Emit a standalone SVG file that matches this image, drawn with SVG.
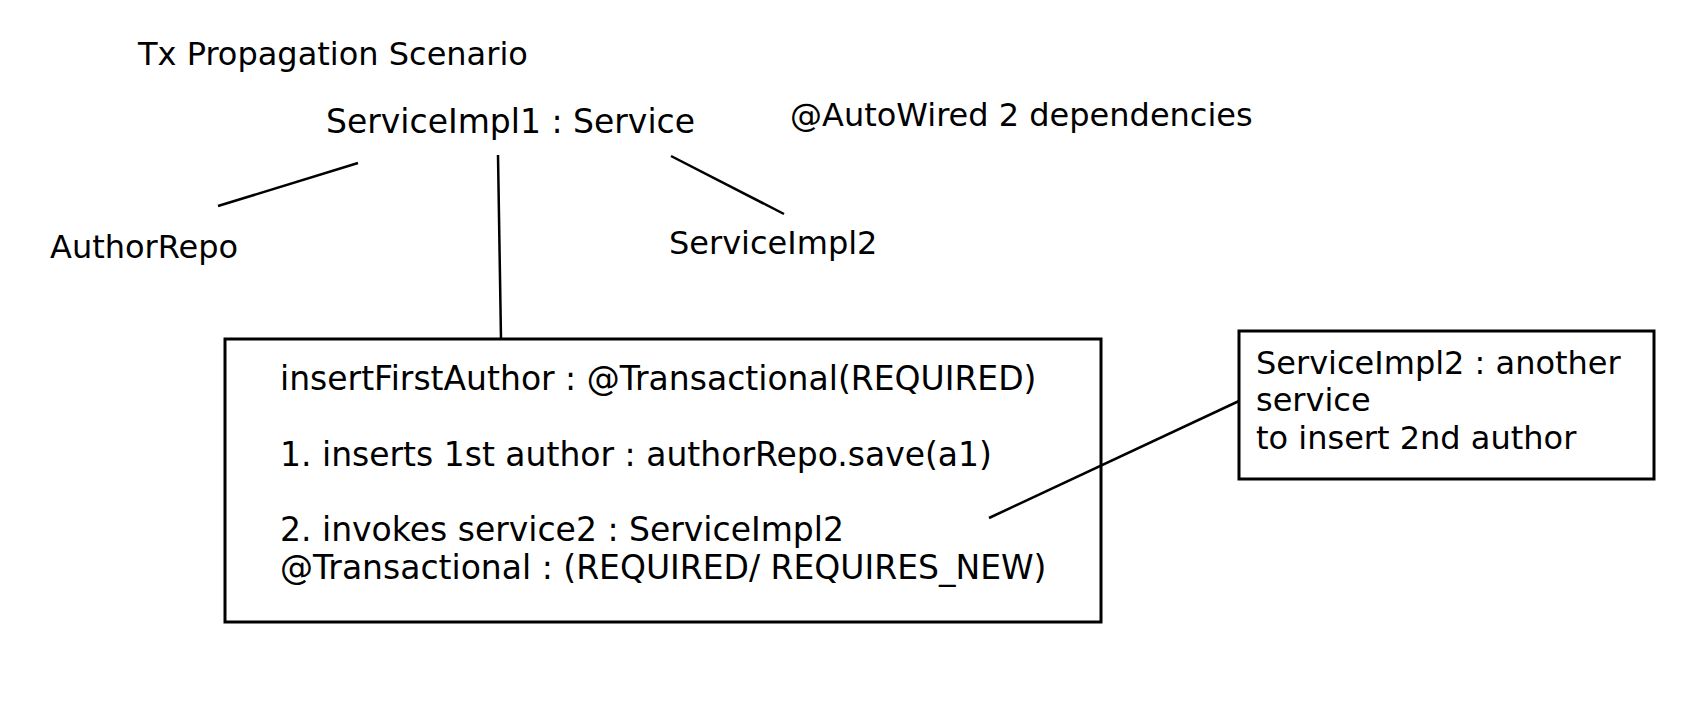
<svg xmlns="http://www.w3.org/2000/svg" width="1698" height="718" viewBox="0 0 1698 718">
<style>
text{font-family:"DejaVu Sans",Verdana,sans-serif;font-size:32px;fill:#000}
.big{font-size:33px}
.box{fill:#fff;stroke:#000;stroke-width:3}
.conn{stroke:#000;stroke-width:2.5;fill:none;stroke-linecap:butt}
</style>
<rect width="1698" height="718" fill="#fff"/>
<g id="title"><text x="138" y="65">Tx Propagation Scenario</text></g>
<g id="serviceImpl1"><text class="big" x="326" y="133">ServiceImpl1 : Service</text></g>
<g id="autowired"><text x="790" y="126">@AutoWired 2 dependencies</text></g>
<g id="authorRepo"><text x="50" y="258">AuthorRepo</text></g>
<g id="serviceImpl2"><text x="669" y="254">ServiceImpl2</text></g>
<g id="mainBox">
<rect class="box" x="225" y="339" width="876" height="283"/>
<text class="big" x="280" y="390">insertFirstAuthor : @Transactional(REQUIRED)</text>
<text class="big" x="280" y="466">1. inserts 1st author : authorRepo.save(a1)</text>
<text class="big" x="280" y="541">2. invokes service2 : ServiceImpl2</text>
<text class="big" x="280" y="579">@Transactional : (REQUIRED/ REQUIRES_NEW)</text>
</g>
<g id="noteBox">
<rect class="box" x="1239" y="331" width="415" height="148"/>
<text x="1256" y="374">ServiceImpl2 : another</text>
<text x="1256" y="411">service</text>
<text x="1256" y="449">to insert 2nd author</text>
</g>
<g id="connectors">
<line class="conn" x1="218" y1="206" x2="358" y2="163"/>
<line class="conn" x1="498" y1="155" x2="501" y2="339"/>
<line class="conn" x1="671" y1="156" x2="784" y2="214"/>
<line class="conn" x1="989" y1="518" x2="1239" y2="401"/>
</g>
</svg>
